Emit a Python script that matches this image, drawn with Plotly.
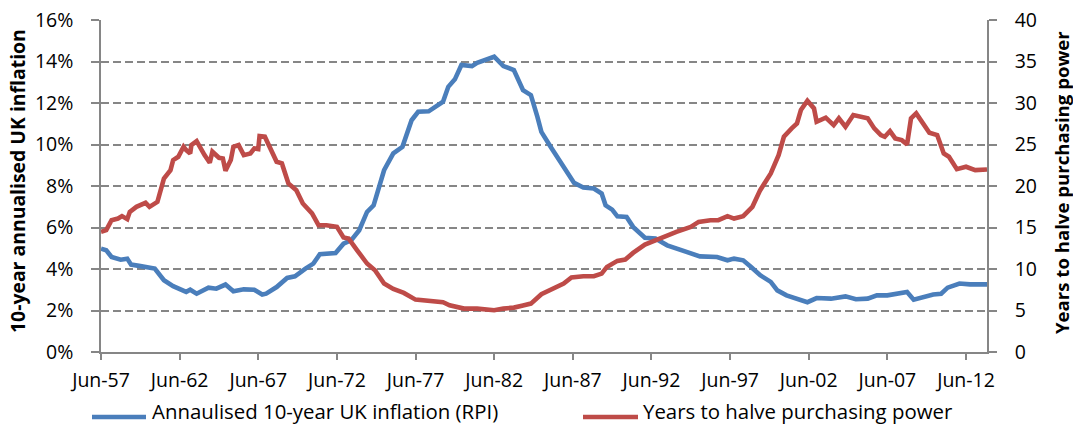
import plotly.graph_objects as go

# ---- data ----
blue_dates = ["1957-06", "1957-10", "1958-02", "1958-09", "1959-02", "1959-05", "1959-11",
              "1960-06", "1960-11", "1961-06", "1962-01", "1962-11", "1963-02", "1963-07",
              "1964-04", "1964-10", "1965-05", "1965-11", "1966-07", "1967-03", "1967-09",
              "1967-12", "1968-08", "1969-04", "1969-10", "1970-06", "1970-12", "1971-05",
              "1972-05", "1972-11", "1973-05", "1973-11", "1974-05", "1974-10", "1975-06",
              "1976-01", "1976-08", "1977-03", "1977-08", "1978-04", "1978-09", "1979-03",
              "1979-07", "1979-12", "1980-05", "1981-01", "1981-05", "1981-11", "1982-06",
              "1983-01", "1983-09", "1984-04", "1984-10", "1985-03", "1985-06", "1986-01",
              "1986-08", "1987-03", "1987-07", "1988-02", "1988-10", "1989-04", "1989-07",
              "1989-12", "1990-04", "1990-11", "1991-04", "1992-01", "1992-09", "1993-06",
              "1994-04", "1995-02", "1995-07", "1996-08", "1997-04", "1997-09", "1998-04",
              "1998-10", "1999-05", "2000-01", "2000-06", "2001-01", "2001-09", "2002-05",
              "2002-12", "2003-11", "2004-10", "2005-06", "2006-03", "2006-10", "2007-06",
              "2008-01", "2008-09", "2009-02", "2009-10", "2010-05", "2010-11", "2011-04",
              "2012-01", "2012-09", "2013-10"]
blue_values = [4.98, 4.90, 4.58, 4.45, 4.50, 4.21, 4.15,
               4.10, 4.02, 3.46, 3.17, 2.90, 3.00, 2.81,
               3.10, 3.05, 3.25, 2.93, 3.02, 3.00, 2.77,
               2.81, 3.13, 3.57, 3.65, 4.02, 4.26, 4.71,
               4.77, 5.22, 5.39, 5.87, 6.75, 7.07, 8.76,
               9.57, 9.89, 11.17, 11.58, 11.60, 11.82, 12.06,
               12.78, 13.14, 13.83, 13.78, 13.94, 14.10, 14.23,
               13.78, 13.59, 12.62, 12.38, 11.33, 10.61, 9.89,
               9.24, 8.60, 8.15, 7.93, 7.88, 7.64, 7.07,
               6.86, 6.54, 6.51, 6.03, 5.51, 5.47, 5.14,
               4.94, 4.74, 4.61, 4.58, 4.42, 4.50, 4.42,
               4.10, 3.70, 3.38, 2.97, 2.73, 2.57, 2.40,
               2.60, 2.57, 2.68, 2.54, 2.57, 2.73, 2.73,
               2.81, 2.89, 2.52, 2.65, 2.77, 2.81, 3.10,
               3.30, 3.26, 3.26]

red_dates = ["1957-06", "1957-10", "1958-02", "1958-07", "1958-10", "1959-02", "1959-04",
             "1959-09", "1960-04", "1960-07", "1961-01", "1961-03", "1961-06", "1961-11",
             "1962-01", "1962-05", "1962-09", "1962-11", "1963-02", "1963-03", "1963-07",
             "1964-01", "1964-05", "1964-07", "1964-12", "1965-03", "1965-05", "1965-09",
             "1965-11", "1966-03", "1966-07", "1966-12", "1967-03", "1967-06", "1967-07",
             "1967-11", "1968-04", "1968-08", "1968-12", "1969-05", "1969-11", "1970-04",
             "1970-11", "1971-04", "1971-10", "1972-06", "1972-11", "1973-03", "1973-09",
             "1974-05", "1974-11", "1975-06", "1976-01", "1976-09", "1977-06", "1978-08",
             "1979-03", "1979-08", "1980-07", "1981-05", "1982-06", "1983-01", "1983-09",
             "1984-04", "1984-10", "1985-06", "1986-03", "1986-11", "1987-05", "1988-02",
             "1988-10", "1989-04", "1989-08", "1990-04", "1990-10", "1991-04", "1992-01",
             "1992-09", "1993-06", "1994-01", "1994-12", "1995-06", "1996-03", "1996-09",
             "1997-04", "1997-09", "1998-04", "1998-11", "1999-05", "2000-01", "2000-07",
             "2000-11", "2001-05", "2001-09", "2001-12", "2002-05", "2002-10", "2002-12",
             "2003-07", "2004-01", "2004-05", "2004-10", "2005-04", "2005-09", "2006-03",
             "2006-08", "2007-01", "2007-04", "2007-08", "2007-12", "2008-05", "2008-09",
             "2008-12", "2009-04", "2009-09", "2010-02", "2010-08", "2011-01", "2011-05",
             "2011-11", "2012-06", "2013-01", "2013-10"]
red_values = [14.48, 14.68, 15.88, 16.08, 16.37, 16.00, 16.89,
              17.49, 17.97, 17.49, 18.09, 19.10, 20.90, 21.91,
              23.12, 23.52, 24.73, 24.33, 23.92, 24.93, 25.41,
              23.72, 22.80, 24.13, 23.40, 23.32, 21.83, 23.12,
              24.73, 24.93, 23.72, 23.92, 24.53, 24.45, 26.02,
              25.94, 24.33, 22.92, 22.72, 20.31, 19.50, 17.89,
              16.69, 15.28, 15.28, 15.08, 13.79, 13.67, 12.34,
              10.66, 9.85, 8.24, 7.60, 7.12, 6.31, 6.15,
              5.99, 5.63, 5.23, 5.23, 5.03, 5.23, 5.35,
              5.60, 5.83, 6.96, 7.60, 8.24, 8.97, 9.13,
              9.13, 9.45, 10.25, 10.98, 11.14, 11.94, 12.95,
              13.47, 14.07, 14.48, 15.08, 15.68, 15.88, 15.88,
              16.37, 16.08, 16.37, 17.49, 19.50, 21.51, 23.72,
              25.93, 26.94, 27.54, 29.15, 30.28, 29.35, 27.74,
              28.23, 27.34, 28.15, 27.14, 28.55, 28.43, 28.15,
              26.94, 26.14, 25.93, 26.62, 25.73, 25.53, 25.01,
              28.15, 28.75, 27.54, 26.42, 26.14, 23.92, 23.52,
              22.03, 22.32, 21.91, 21.99]

x_tick_dates = ["1957-06", "1962-06", "1967-06", "1972-06", "1977-06", "1982-06",
                "1987-06", "1992-06", "1997-06", "2002-06", "2007-06", "2012-06"]
x_tick_labels = ["Jun-57", "Jun-62", "Jun-67", "Jun-72", "Jun-77", "Jun-82",
                 "Jun-87", "Jun-92", "Jun-97", "Jun-02", "Jun-07", "Jun-12"]
left_tick_values = [0, 2, 4, 6, 8, 10, 12, 14, 16]
left_tick_labels = ["0%", "2%", "4%", "6%", "8%", "10%", "12%", "14%", "16%"]
right_tick_values = [0, 5, 10, 15, 20, 25, 30, 35, 40]
right_tick_labels = ["0", "5", "10", "15", "20", "25", "30", "35", "40"]

blue_name = "Annaulised 10-year UK inflation (RPI)"
red_name = "Years to halve purchasing power"
left_title = "10-year annualised UK inflation"
right_title = "Years to halve purchasing power"

BLUE = "#4A7EBB"
RED = "#BE4B48"
AXIS = "#868686"
FONT = "Open Sans"

# plot-area geometry in pixels (figure 1073x427)
L, R, T, B = 101, 987, 20, 352
PW, PH = R - L, B - T


def px_x(p):
    return (p - L) / PW


def px_y(p):
    return (B - p) / PH


fig = go.Figure()
fig.add_trace(go.Scatter(x=[d + "-01" for d in blue_dates], y=blue_values, name=blue_name,
                         mode="lines", line=dict(color=BLUE, width=4.6), yaxis="y"))
fig.add_trace(go.Scatter(x=[d + "-01" for d in red_dates], y=red_values, name=red_name,
                         mode="lines", line=dict(color=RED, width=4.6), yaxis="y2"))

# legend drawn as samples + labels below the axis
legend_items = [(blue_name, BLUE, 92, 146, 151), (red_name, RED, 583, 638, 642)]
shapes, annotations = [], []
for name, col, x0, x1, tx in legend_items:
    shapes.append(dict(type="line", xref="paper", yref="paper", x0=px_x(x0), x1=px_x(x1),
                       y0=px_y(417), y1=px_y(417), line=dict(color=col, width=4.6)))
    annotations.append(dict(text=name, xref="paper", yref="paper", x=px_x(tx), y=px_y(426.5),
                            xanchor="left", yanchor="bottom", showarrow=False, borderpad=0,
                            font=dict(size=20.4, color="black")))

annotations += [
    dict(text="<b>" + left_title + "</b>", xref="paper", yref="paper",
         x=px_x(17), y=px_y(181), xanchor="center", yanchor="middle", textangle=-90,
         showarrow=False, borderpad=0, font=dict(size=19.4)),
    dict(text="<b>" + right_title + "</b>", xref="paper", yref="paper",
         x=px_x(1061), y=px_y(183), xanchor="center", yanchor="middle", textangle=-90,
         showarrow=False, borderpad=0, font=dict(size=18.6)),
]

fig.update_layout(
    width=1073, height=427,
    margin=dict(l=L, r=1073 - R, t=T, b=427 - B, autoexpand=False),
    paper_bgcolor="white", plot_bgcolor="white",
    font=dict(family=FONT, size=20, color="black"),
    showlegend=False,
    xaxis=dict(type="date", range=["1957-06-01", "2013-10-01"],
               tickvals=[d + "-01" for d in x_tick_dates], ticktext=x_tick_labels,
               showline=True, linecolor=AXIS, linewidth=1.5, ticks="outside",
               ticklen=6, tickcolor=AXIS, tickwidth=1.5, showgrid=False, zeroline=False,
               tickfont=dict(size=19.5), ticklabelstandoff=4),
    yaxis=dict(range=[0, 16], tickvals=left_tick_values, ticktext=left_tick_labels,
               showline=True, linecolor=AXIS, linewidth=1.5, ticks="outside", ticklen=8,
               tickcolor=AXIS, tickwidth=1.5, showgrid=True, gridcolor=AXIS, gridwidth=1.5,
               griddash="8px,4px", zeroline=False, tickfont=dict(size=19.5),
               ticklabelstandoff=14),
    yaxis2=dict(range=[0, 40], tickvals=right_tick_values, ticktext=right_tick_labels,
                overlaying="y", side="right", showline=True, linecolor=AXIS, linewidth=1.5,
                ticks="outside", ticklen=8, tickcolor=AXIS, tickwidth=1.5, showgrid=False,
                zeroline=False, tickfont=dict(size=19.5), ticklabelstandoff=14),
    shapes=shapes,
    annotations=annotations,
)

fig.write_html("out.html", config={"displayModeBar": False},
               post_script="document.body.style.margin='0px';")
